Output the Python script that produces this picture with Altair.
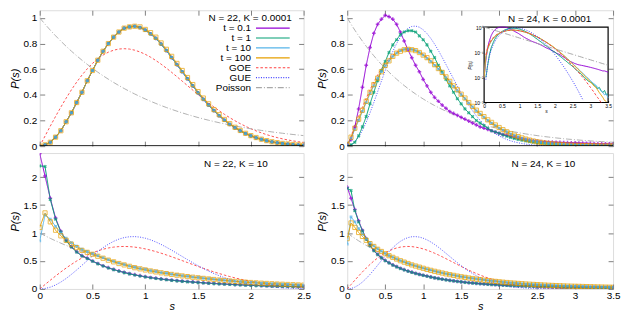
import altair as alt
import pandas as pd

FONT = "Liberation Sans"
GRAY = "#808080"

SERIES = ["t = 0.1", "t = 1", "t = 10", "t = 100", "GOE", "GUE", "Poisson"]
COLORS = ["#9400D3", "#009E73", "#56B4E9", "#E69F00", "#FF4040", "#4040FF", "#A8A8A8"]
DASHES = [[1, 0], [1, 0], [1, 0], [1, 0], [2.5, 2], [1, 1.5], [6, 2, 1, 2]]

XT_LEFT = [0, 0.5, 1, 1.5, 2, 2.5]
XT_RIGHT = [0, 0.5, 1, 1.5, 2, 2.5, 3, 3.5]
YT_TOP = [0, 0.2, 0.4, 0.6, 0.8, 1]
YT_BOT = [0, 0.5, 1, 1.5, 2]
YT_LOG = [0.001, 0.01, 0.1, 1]

S = [0.0, 0.05, 0.1, 0.15, 0.2, 0.25, 0.3, 0.35, 0.4, 0.45, 0.5, 0.55, 0.6, 0.65, 0.7,
     0.75, 0.8, 0.85, 0.9, 0.95, 1.0, 1.05, 1.1, 1.15, 1.2, 1.25, 1.3, 1.35, 1.4, 1.45,
     1.5, 1.55, 1.6, 1.65, 1.7, 1.75, 1.8, 1.85, 1.9, 1.95, 2.0, 2.05, 2.1, 2.15, 2.2,
     2.25, 2.3, 2.35, 2.4, 2.45, 2.5, 2.55, 2.6, 2.65, 2.7, 2.75, 2.8, 2.85, 2.9, 2.95,
     3.0, 3.05, 3.1, 3.15, 3.2, 3.25, 3.3, 3.35, 3.4, 3.45, 3.5]

GOE = [0.0, 0.0784, 0.1559, 0.2315, 0.3044, 0.3739, 0.4391, 0.4994, 0.5541, 0.6029, 0.6454,
       0.6812, 0.7104, 0.7327, 0.7483, 0.7574, 0.7601, 0.7570, 0.7483, 0.7345, 0.7162,
       0.6938, 0.6680, 0.6393, 0.6083, 0.5755, 0.5415, 0.5068, 0.4718, 0.4369, 0.4025,
       0.3690, 0.3365, 0.3054, 0.2760, 0.2481, 0.2220, 0.1977, 0.1752, 0.1546, 0.1358,
       0.1187, 0.1033, 0.0895, 0.0772, 0.0663, 0.0567, 0.0482, 0.0409, 0.0345, 0.0290,
       0.0242, 0.0202, 0.0167, 0.0138, 0.0114, 0.0093, 0.0076, 0.0062, 0.0050, 0.0040,
       0.0032, 0.0026, 0.0020, 0.0016, 0.0013, 0.0010, 0.00078, 0.00061, 0.00047, 0.00036]
GUE = [0.0, 0.0081, 0.0320, 0.0709, 0.1233, 0.1871, 0.2602, 0.3398, 0.4232, 0.5073, 0.5896,
       0.6673, 0.7381, 0.7999, 0.8513, 0.8911, 0.9186, 0.9337, 0.9364, 0.9273, 0.9076,
       0.8782, 0.8405, 0.7961, 0.7464, 0.6929, 0.6371, 0.5804, 0.5240, 0.4689, 0.4159,
       0.3657, 0.3189, 0.2757, 0.2364, 0.2011, 0.1697, 0.1421, 0.1181, 0.0974, 0.0797,
       0.0647, 0.0521, 0.0416, 0.0331, 0.0261, 0.0204, 0.0158, 0.0122, 0.0093, 0.0071,
       0.0054, 0.0040, 0.0030, 0.0022, 0.0016, 0.0012, 0.00085, 0.0006, 0.0004, 0.0003,
       0.0002, 0.00013, 0.00008, 0.00005, 0.00003, 0.00002, 0.00001, 0.00001, 0.00001, 0.0]
POISSON = [1.0, 0.9512, 0.9048, 0.8607, 0.8187, 0.7788, 0.7408, 0.7047, 0.6703, 0.6376, 0.6065,
           0.5769, 0.5488, 0.5220, 0.4966, 0.4724, 0.4493, 0.4274, 0.4066, 0.3867, 0.3679,
           0.3499, 0.3329, 0.3166, 0.3012, 0.2865, 0.2725, 0.2592, 0.2466, 0.2346, 0.2231,
           0.2122, 0.2019, 0.1920, 0.1827, 0.1738, 0.1653, 0.1572, 0.1496, 0.1423, 0.1353,
           0.1287, 0.1225, 0.1165, 0.1108, 0.1054, 0.1003, 0.0954, 0.0907, 0.0863, 0.0821,
           0.0781, 0.0743, 0.0707, 0.0672, 0.0639, 0.0608, 0.0578, 0.0550, 0.0523, 0.0498,
           0.0474, 0.0450, 0.0429, 0.0408, 0.0388, 0.0369, 0.0351, 0.0334, 0.0317, 0.0302]

# N = 22, K = 0.0001 (all t collapse onto the same curve)
TL_T01 = [0.0, 0.01, 0.03, 0.07, 0.12, 0.19, 0.26, 0.34, 0.42, 0.51, 0.59,
          0.67, 0.74, 0.80, 0.85, 0.89, 0.92, 0.93, 0.935, 0.925, 0.905,
          0.875, 0.84, 0.795, 0.745, 0.69, 0.635, 0.58, 0.525, 0.47, 0.415,
          0.365, 0.32, 0.277, 0.237, 0.202, 0.17, 0.143, 0.119, 0.098, 0.08,
          0.065, 0.053, 0.042, 0.033, 0.026, 0.02, 0.016, 0.012, 0.009, 0.007]
TL_T1 = TL_T01
TL_T10 = TL_T01
TL_T100 = [0.0, 0.01, 0.03, 0.07, 0.12, 0.19, 0.26, 0.34, 0.42, 0.51, 0.59,
           0.67, 0.74, 0.80, 0.85, 0.89, 0.92, 0.93, 0.935, 0.93, 0.91,
           0.885, 0.85, 0.805, 0.755, 0.70, 0.645, 0.59, 0.535, 0.48, 0.425,
           0.375, 0.33, 0.285, 0.245, 0.208, 0.175, 0.147, 0.122, 0.1, 0.082,
           0.067, 0.054, 0.043, 0.034, 0.027, 0.021, 0.017, 0.013, 0.01, 0.008]

# N = 24, K = 0.0001
TR_T01 = [0.01, 0.05, 0.15, 0.29, 0.46, 0.63, 0.77, 0.88, 0.95, 0.99, 1.02,
          1.01, 0.99, 0.95, 0.89, 0.82, 0.75, 0.69, 0.63, 0.58, 0.52,
          0.47, 0.42, 0.38, 0.35, 0.32, 0.295, 0.27, 0.255, 0.24, 0.225,
          0.21, 0.195, 0.18, 0.165, 0.15, 0.14, 0.13, 0.12, 0.11, 0.10,
          0.09, 0.085, 0.078, 0.07, 0.063, 0.057, 0.051, 0.046, 0.042, 0.039,
          0.036, 0.034, 0.032, 0.031, 0.03, 0.029, 0.028, 0.027, 0.026, 0.025,
          0.024, 0.023, 0.022, 0.021, 0.020, 0.019, 0.018, 0.018, 0.017, 0.016]
TR_T1 = [0.0, 0.01, 0.03, 0.08, 0.15, 0.23, 0.33, 0.42, 0.51, 0.59, 0.66,
         0.73, 0.79, 0.83, 0.87, 0.89, 0.90, 0.90, 0.89, 0.86, 0.83,
         0.79, 0.74, 0.69, 0.63, 0.58, 0.52, 0.47, 0.42, 0.37, 0.33,
         0.29, 0.26, 0.23, 0.20, 0.18, 0.16, 0.14, 0.12, 0.11, 0.10,
         0.088, 0.077, 0.068, 0.06, 0.052, 0.046, 0.04, 0.035, 0.031, 0.027,
         0.023, 0.02, 0.017, 0.015, 0.013, 0.011, 0.009, 0.008, 0.007, 0.0065,
         0.006, 0.005, 0.0045, 0.0035, 0.004, 0.003, 0.0025, 0.003, 0.002, 0.0022]
TR_T10 = [0.01, 0.06, 0.13, 0.20, 0.27, 0.34, 0.41, 0.47, 0.53, 0.58, 0.625,
          0.665, 0.70, 0.725, 0.745, 0.755, 0.758, 0.755, 0.745, 0.73, 0.71,
          0.685, 0.66, 0.63, 0.60, 0.57, 0.535, 0.50, 0.465, 0.43, 0.40,
          0.37, 0.335, 0.305, 0.275, 0.25, 0.225, 0.20, 0.18, 0.16, 0.14,
          0.125, 0.11, 0.096, 0.084, 0.073, 0.063, 0.055, 0.047, 0.041, 0.035,
          0.03, 0.026, 0.022, 0.019, 0.016, 0.014, 0.012, 0.010, 0.009, 0.0075,
          0.0065, 0.0055, 0.005, 0.004, 0.0035, 0.003, 0.0025, 0.002, 0.0022, 0.0015]
TR_T100 = [0.01, 0.07, 0.14, 0.21, 0.28, 0.35, 0.42, 0.48, 0.53, 0.58, 0.63,
           0.665, 0.70, 0.725, 0.74, 0.752, 0.755, 0.752, 0.745, 0.73, 0.71,
           0.69, 0.665, 0.635, 0.605, 0.575, 0.54, 0.505, 0.47, 0.44, 0.405,
           0.375, 0.34, 0.31, 0.28, 0.255, 0.23, 0.205, 0.185, 0.165, 0.145,
           0.128, 0.112, 0.098, 0.085, 0.074, 0.064, 0.055, 0.047, 0.04, 0.034,
           0.029, 0.025, 0.021, 0.018, 0.015, 0.013, 0.011, 0.009, 0.008, 0.0065,
           0.0055, 0.0045, 0.004, 0.0032, 0.0025, 0.002, 0.0016, 0.0012, 0.0011, 0.0009]

# N = 22, K = 10
BL_T01 = [2.42, 2.02, 1.62, 1.27, 1.03, 0.87, 0.755, 0.665, 0.595, 0.55, 0.50,
          0.455, 0.415, 0.38, 0.35, 0.322, 0.297, 0.275, 0.255, 0.237, 0.22,
          0.205, 0.192, 0.18, 0.169, 0.159, 0.15, 0.141, 0.133, 0.126, 0.119,
          0.112, 0.106, 0.1, 0.094, 0.089, 0.084, 0.079, 0.075, 0.071, 0.067,
          0.063, 0.06, 0.057, 0.054, 0.051, 0.048, 0.046, 0.044, 0.042, 0.04]
BL_T1 = [2.2, 2.19, 1.6, 1.25, 1.02, 0.86, 0.75, 0.66, 0.59, 0.545, 0.495,
         0.45, 0.41, 0.375, 0.345, 0.317, 0.292, 0.27, 0.25, 0.232, 0.215,
         0.2, 0.187, 0.175, 0.164, 0.154, 0.145, 0.136, 0.128, 0.121, 0.114,
         0.107, 0.101, 0.095, 0.09, 0.085, 0.08, 0.076, 0.072, 0.068, 0.064,
         0.06, 0.057, 0.054, 0.051, 0.048, 0.046, 0.044, 0.042, 0.04, 0.038]
BL_T10 = [0.86, 1.32, 1.25, 1.12, 1.0, 0.91, 0.83, 0.765, 0.71, 0.67, 0.635,
          0.595, 0.56, 0.525, 0.492, 0.462, 0.436, 0.41, 0.386, 0.365, 0.345,
          0.326, 0.309, 0.292, 0.277, 0.263, 0.249, 0.236, 0.224, 0.213, 0.202,
          0.191, 0.181, 0.171, 0.162, 0.153, 0.145, 0.137, 0.13, 0.123, 0.117,
          0.111, 0.105, 0.1, 0.095, 0.09, 0.086, 0.082, 0.078, 0.074, 0.071]
BL_T100 = [1.10, 1.36, 1.2, 1.05, 0.95, 0.87, 0.80, 0.74, 0.69, 0.655, 0.62,
           0.585, 0.55, 0.515, 0.485, 0.455, 0.43, 0.405, 0.38, 0.36, 0.34,
           0.322, 0.305, 0.289, 0.274, 0.26, 0.246, 0.233, 0.221, 0.21, 0.2,
           0.189, 0.179, 0.169, 0.16, 0.151, 0.143, 0.135, 0.128, 0.121, 0.115,
           0.109, 0.103, 0.098, 0.093, 0.088, 0.084, 0.08, 0.076, 0.072, 0.069]

# N = 24, K = 10
BR_T01 = [1.82, 1.62, 1.42, 1.22, 1.05, 0.90, 0.78, 0.69, 0.62, 0.56, 0.51,
          0.47, 0.43, 0.40, 0.37, 0.345, 0.32, 0.30, 0.28, 0.262, 0.245,
          0.23, 0.215, 0.2, 0.188, 0.176, 0.165, 0.155, 0.145, 0.136, 0.128,
          0.12, 0.113, 0.107, 0.101, 0.095, 0.09, 0.085, 0.081, 0.077, 0.073,
          0.07, 0.066, 0.063, 0.06, 0.058, 0.055, 0.053, 0.051, 0.049, 0.047,
          0.045, 0.043, 0.041, 0.04, 0.038, 0.037, 0.035, 0.034, 0.033, 0.032,
          0.031, 0.03, 0.029, 0.028, 0.027, 0.026, 0.025, 0.025, 0.024, 0.023]
BR_T1 = [1.80, 1.76, 1.40, 1.20, 1.04, 0.89, 0.775, 0.685, 0.615, 0.555, 0.505,
         0.465, 0.425, 0.395, 0.365, 0.34, 0.316, 0.296, 0.277, 0.259, 0.242,
         0.227, 0.212, 0.198, 0.185, 0.173, 0.162, 0.152, 0.143, 0.134, 0.126,
         0.118, 0.111, 0.105, 0.099, 0.093, 0.088, 0.083, 0.079, 0.075, 0.071,
         0.068, 0.064, 0.061, 0.058, 0.056, 0.053, 0.051, 0.049, 0.047, 0.045,
         0.043, 0.041, 0.039, 0.038, 0.036, 0.035, 0.033, 0.032, 0.031, 0.03,
         0.029, 0.028, 0.027, 0.026, 0.025, 0.024, 0.024, 0.023, 0.022, 0.022]
BR_T10 = [0.80, 1.29, 1.20, 1.08, 0.98, 0.90, 0.83, 0.77, 0.72, 0.675, 0.635,
          0.6, 0.568, 0.538, 0.508, 0.483, 0.458, 0.433, 0.413, 0.393, 0.373,
          0.353, 0.336, 0.319, 0.303, 0.288, 0.273, 0.259, 0.246, 0.233, 0.221,
          0.21, 0.199, 0.189, 0.179, 0.17, 0.161, 0.153, 0.145, 0.138, 0.131,
          0.124, 0.118, 0.112, 0.107, 0.102, 0.097, 0.092, 0.088, 0.084, 0.08,
          0.076, 0.073, 0.069, 0.066, 0.063, 0.06, 0.058, 0.055, 0.053, 0.051,
          0.049, 0.047, 0.045, 0.043, 0.041, 0.039, 0.038, 0.036, 0.035, 0.033]
BR_T100 = [0.90, 1.18, 1.10, 1.01, 0.94, 0.87, 0.81, 0.76, 0.71, 0.67, 0.63,
           0.595, 0.565, 0.535, 0.505, 0.48, 0.455, 0.43, 0.41, 0.39, 0.37,
           0.35, 0.333, 0.316, 0.30, 0.285, 0.27, 0.256, 0.243, 0.23, 0.218,
           0.207, 0.196, 0.186, 0.176, 0.167, 0.158, 0.15, 0.142, 0.135, 0.128,
           0.121, 0.115, 0.109, 0.104, 0.099, 0.094, 0.089, 0.085, 0.081, 0.077,
           0.073, 0.07, 0.066, 0.063, 0.06, 0.057, 0.055, 0.052, 0.05, 0.048,
           0.046, 0.044, 0.042, 0.04, 0.038, 0.036, 0.035, 0.033, 0.032, 0.03]

W1, W2, H = 266, 268, 137
INSET_X = [138, 263]
INSET_Y = [93, 17]


def long_frame(n, lists):
    rows = []
    for name, vals in zip(SERIES, lists):
        for s, p in zip(S[:n], vals[:n]):
            rows.append({"s": s, "p": p, "series": name})
    return pd.DataFrame(rows)


def x_axis(vals, show):
    kw = dict(values=vals, format="~g", tickSize=5, offset=-5, domain=False, grid=False,
              tickColor=GRAY, labelFlush=False, labelOverlap=False,
              labelFontSize=10, labelFont=FONT, labelColor="black")
    if show:
        kw.update(title="s", titleFontStyle="italic", titleFont=FONT, titleFontSize=11,
                  titleFontWeight="normal", titlePadding=0, titleColor="black",
                  labelPadding=2)
    else:
        kw.update(title=None, labels=False, labelPadding=0)
    return alt.Axis(**kw)


def y_axis(vals):
    return alt.Axis(values=vals, format="~g", tickSize=5, offset=-5, domain=False, grid=False,
                    tickColor=GRAY, labelFlush=False, labelOverlap=False, labelPadding=3,
                    labelFontSize=10, labelFont=FONT, labelColor="black",
                    title="P(s)", titleFontStyle="italic", titleFont=FONT, titleFontSize=11,
                    titleFontWeight="normal", titlePadding=3, titleColor="black")


def mirror_axis(vals, orient):
    return alt.Axis(orient=orient, values=vals, tickSize=5, offset=-5, domain=False,
                    grid=False, tickColor=GRAY, labels=False, title=None)


LEGEND = alt.Legend(title="N = 22, K = 0.0001", orient="none", legendX=W1 - 96, legendY=3,
                    symbolType="M2.5,0H11", symbolSize=64, symbolStrokeWidth=1.2,
                    labelAlign="right", labelOffset=0, labelFontSize=10, labelFont=FONT,
                    labelColor="black", titleFontSize=10, titleFont=FONT,
                    titleFontWeight="normal", titleColor="black", titleAnchor="end",
                    titleAlign="right", rowPadding=0, padding=0, titlePadding=0)

POINT_STYLE = {
    "t = 0.1": dict(shape="cross", size=14, filled=True, color=COLORS[0]),
    "t = 1": dict(shape="cross", size=14, filled=True, angle=45, color=COLORS[1]),
    "t = 10": dict(shape="square", size=8, filled=True, color=COLORS[2]),
    "t = 100": dict(shape="square", size=18, filled=False, strokeWidth=1, color=COLORS[3]),
}


def main_layer(df, xvals, xmax, ymax, yvals, show_x, legend, note, top):
    sx = alt.Scale(domain=[0, xmax], nice=False, zero=False)
    sy = alt.Scale(domain=[0, ymax], nice=False, zero=False)
    x = alt.X("s:Q", scale=sx, axis=x_axis(xvals, show_x))
    y = alt.Y("p:Q", scale=sy, axis=y_axis(yvals))
    col = alt.Color("series:N", scale=alt.Scale(domain=SERIES, range=COLORS), legend=legend)
    dash = alt.StrokeDash("series:N", scale=alt.Scale(domain=SERIES, range=DASHES), legend=legend)
    base = alt.Chart(df)
    layers = [
        base.transform_filter(alt.FieldOneOfPredicate(field="series", oneOf=SERIES[4:]))
        .mark_line(strokeWidth=0.9, clip=True).encode(x=x, y=y, color=col, strokeDash=dash),
        base.transform_filter(alt.FieldOneOfPredicate(field="series", oneOf=SERIES[:4]))
        .mark_line(strokeWidth=1, clip=True).encode(x=x, y=y, color=col, strokeDash=dash),
    ]
    for name in SERIES[:4]:
        layers.append(
            base.transform_filter(alt.FieldEqualPredicate(field="series", equal=name))
            .mark_point(clip=True, **POINT_STYLE[name]).encode(x=x, y=y))
    if top:
        layers.append(alt.Chart(pd.DataFrame({"p": [0.0]}))
                      .mark_rule(color="black", strokeWidth=1.6, clip=True).encode(y=y))
    if note:
        layers.append(alt.Chart(pd.DataFrame({"label": [note[0]]}))
                      .mark_text(align="right", baseline="middle", fontSize=10, font=FONT,
                                 color="black")
                      .encode(text="label:N", x=alt.value(note[1]), y=alt.value(note[2])))
    core = alt.layer(*layers)
    mx = alt.X("s:Q", scale=sx, axis=mirror_axis(xvals, "top") if top else None)
    my = alt.Y("p:Q", scale=sy, axis=mirror_axis(yvals, "right"))
    mirror = alt.Chart(pd.DataFrame({"s": [0.0], "p": [0.0]})) \
        .mark_point(opacity=0, size=1).encode(x=mx, y=my)
    return alt.layer(core, mirror).resolve_axis(x="independent", y="independent")


def inset_layer(df):
    sx = alt.Scale(domain=[0, 3.5], range=INSET_X, nice=False, zero=False)
    sy = alt.Scale(type="log", domain=[0.001, 1], range=INSET_Y, clamp=True, nice=False)
    ax = alt.Axis(orient="bottom", offset=INSET_Y[0] - 2 - H, tickSize=2, values=XT_RIGHT,
                  format="~g", labelFontSize=5, labelPadding=1, labelFont=FONT,
                  labelColor="black", title="s", titleFontSize=5, titleFontStyle="italic",
                  titleFont=FONT, titleFontWeight="normal", titlePadding=0, titleColor="black",
                  domain=False, grid=False, tickColor="black", labelFlush=False,
                  labelOverlap=False)
    ay = alt.Axis(orient="left", offset=-(INSET_X[0] + 2), tickSize=2, values=YT_LOG,
                  labelExpr="datum.value >= 1 ? '10⁰' : datum.value >= 0.1 ? '10⁻¹' : "
                            "datum.value >= 0.01 ? '10⁻²' : '10⁻³'",
                  labelFontSize=5, labelPadding=1, labelFont=FONT, labelColor="black",
                  title="P(s)", titleFontSize=5, titleFontStyle="italic", titleFont=FONT,
                  titleFontWeight="normal", titlePadding=1, titleColor="black",
                  domain=False, grid=False, tickColor="black", labelFlush=False,
                  labelOverlap=False)
    box = alt.Chart(pd.DataFrame({"s": [0.0], "s2": [3.5], "p": [0.001], "p2": [1.0]})) \
        .mark_rect(fill="white", stroke="black", strokeWidth=1.2) \
        .encode(x=alt.X("s:Q", scale=sx, axis=ax), x2="s2:Q",
                y=alt.Y("p:Q", scale=sy, axis=ay), y2="p2:Q")
    col = alt.Color("series:N", scale=alt.Scale(domain=SERIES, range=COLORS), legend=None)
    dash = alt.StrokeDash("series:N", scale=alt.Scale(domain=SERIES, range=DASHES), legend=None)
    lines = alt.Chart(df).transform_filter("datum.p >= 0.001") \
        .mark_line(strokeWidth=1) \
        .encode(x=alt.X("s:Q", scale=sx, axis=ax), y=alt.Y("p:Q", scale=sy, axis=ay),
                color=col, strokeDash=dash)
    return alt.layer(box, lines)


df_tl = long_frame(51, [TL_T01, TL_T1, TL_T10, TL_T100, GOE, GUE, POISSON])
df_tr = long_frame(71, [TR_T01, TR_T1, TR_T10, TR_T100, GOE, GUE, POISSON])
df_bl = long_frame(51, [BL_T01, BL_T1, BL_T10, BL_T100, GOE, GUE, POISSON])
df_br = long_frame(71, [BR_T01, BR_T1, BR_T10, BR_T100, GOE, GUE, POISSON])

tl = main_layer(df_tl, XT_LEFT, 2.5, 1.06, YT_TOP, False, LEGEND, None, True) \
    .properties(width=W1, height=H)
bl = main_layer(df_bl, XT_LEFT, 2.5, 2.43, YT_BOT, True, None,
                ("N = 22, K = 10", W1 - 36, 11), False).properties(width=W1, height=H)
tr_main = main_layer(df_tr, XT_RIGHT, 3.5, 1.06, YT_TOP, False, None,
                     ("N = 24, K = 0.0001", W2 - 22, 9), True)
tr = alt.layer(tr_main, inset_layer(df_tr)) \
    .resolve_scale(x="independent", y="independent") \
    .properties(width=W2, height=H)
br = main_layer(df_br, XT_RIGHT, 3.5, 2.43, YT_BOT, True, None,
                ("N = 24, K = 10", W2 - 38, 11), False).properties(width=W2, height=H)

top_row = alt.hconcat(tl, tr, spacing=44, bounds="flush") \
    .resolve_scale(color="independent", strokeDash="independent")
bottom_row = alt.hconcat(bl, br, spacing=44, bounds="flush") \
    .resolve_scale(color="independent", strokeDash="independent")
chart = alt.vconcat(top_row, bottom_row, spacing=0) \
    .resolve_scale(color="independent", strokeDash="independent") \
    .properties(padding={"left": 0, "top": 0, "right": 0, "bottom": 0}) \
    .configure_view(stroke=GRAY, strokeWidth=1) \
    .configure(background="white", font=FONT)

chart.save("out.html", embed_options={"renderer": "svg", "actions": False})
